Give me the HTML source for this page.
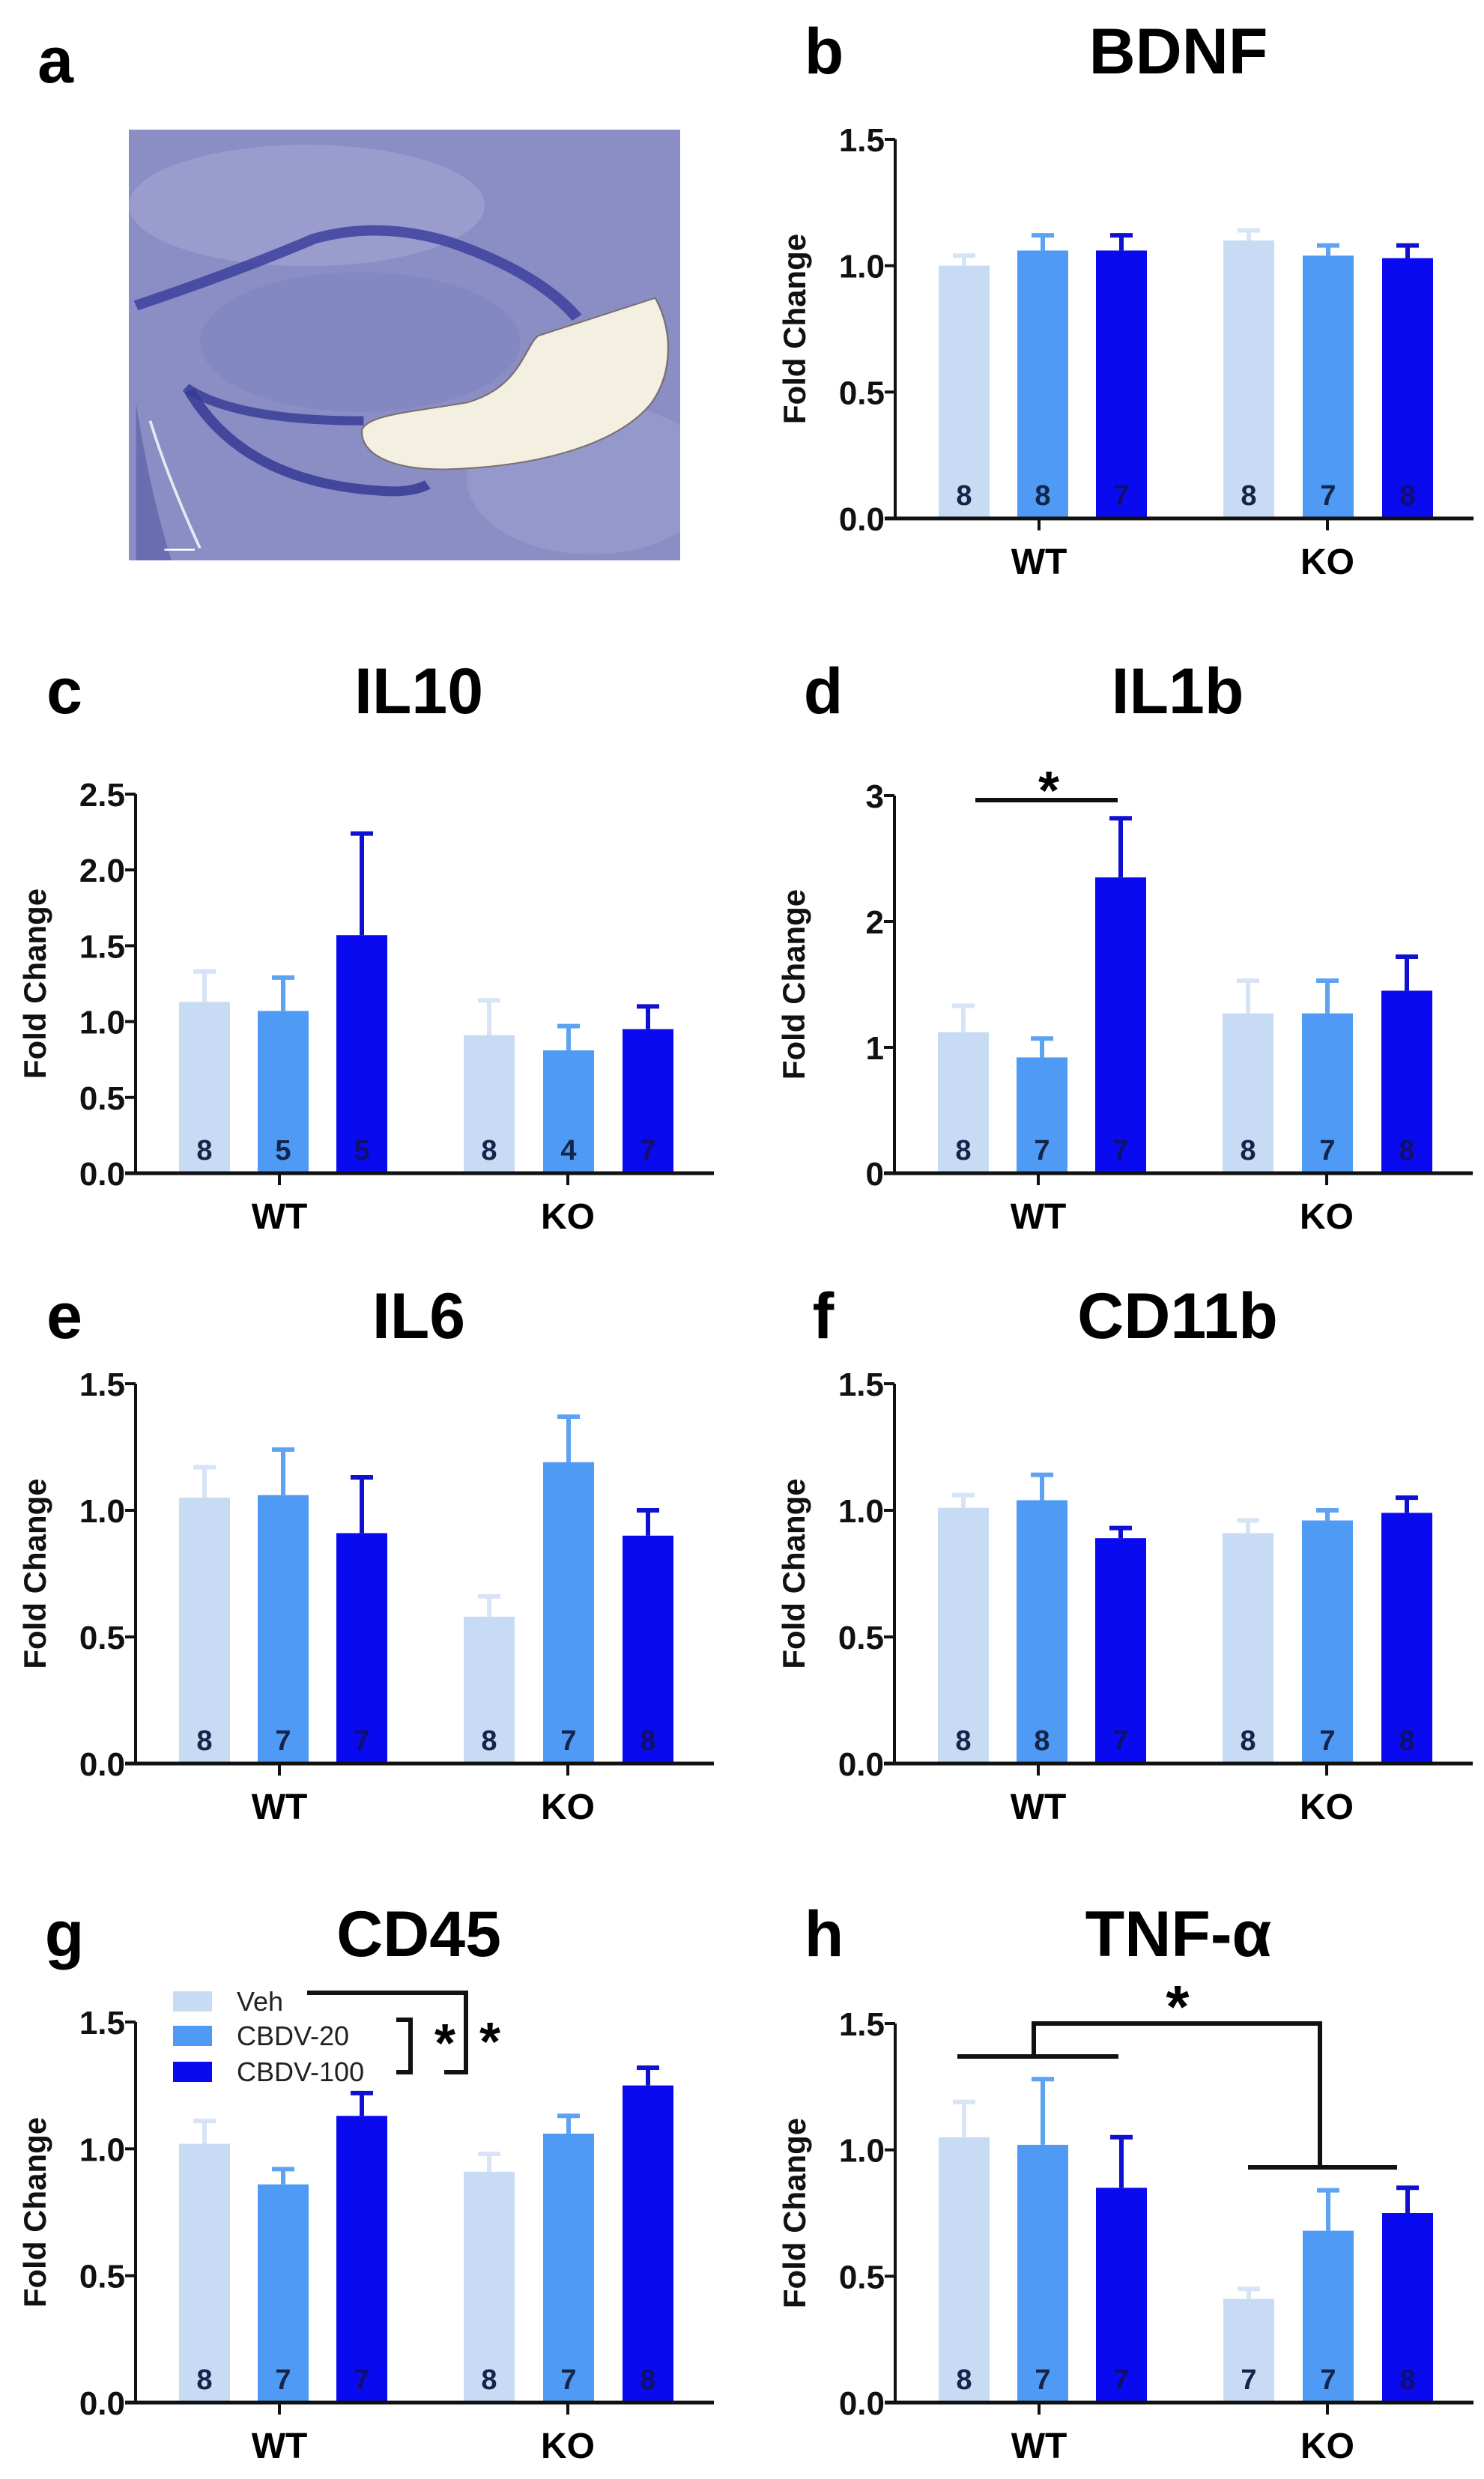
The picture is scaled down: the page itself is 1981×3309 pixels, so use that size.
<!DOCTYPE html>
<html><head><meta charset="utf-8"><style>
html,body{margin:0;padding:0;background:#fff;}
svg{display:block;font-family:"Liberation Sans",Arial,sans-serif;}
</style></head><body>
<svg id="fig" width="1981" height="3309" viewBox="0 0 1981 3309" xmlns="http://www.w3.org/2000/svg">
<g id="panel-a">
<text x="74" y="110" font-size="86" font-weight="bold" text-anchor="middle">a</text>
<svg x="172" y="173" width="736" height="575" viewBox="0 0 1550 1420" preserveAspectRatio="none">
<rect x="0" y="0" width="1550" height="1420" fill="#8a8ec5"/>
<ellipse cx="500" cy="250" rx="500" ry="200" fill="#9da0cf" opacity="0.8"/>
<ellipse cx="1300" cy="1150" rx="350" ry="250" fill="#9a9dcd" opacity="0.7"/>
<ellipse cx="650" cy="700" rx="450" ry="230" fill="#8387c2"/>
<path d="M 20,580 Q 300,470 520,360 Q 700,300 900,370 Q 1150,470 1260,620" fill="none" stroke="#3d419c" stroke-width="34" opacity="0.85"/>
<path d="M 160,850 Q 300,960 660,960" fill="none" stroke="#3a3e98" stroke-width="30" opacity="0.85"/>
<path d="M 170,860 Q 320,1160 700,1190 Q 790,1200 840,1170" fill="none" stroke="#363a95" stroke-width="32" opacity="0.85"/>
<path d="M 20,900 L 20,1420 L 120,1420 Q 60,1200 20,900 Z" fill="#6a6eb0"/>
<path d="M 60,960 Q 110,1150 200,1380" fill="none" stroke="#e8e8f0" stroke-width="8"/>
<path d="M 655,990 C 670,940 800,930 950,900 C 1100,850 1110,720 1150,680 L 1480,555 C 1530,660 1530,800 1470,900 C 1390,1020 1190,1110 890,1120 C 740,1122 650,1070 655,990 Z" fill="#f3f0e2" stroke="#7a6f70" stroke-width="5"/>
<line x1="100" y1="1385" x2="185" y2="1385" stroke="#fff" stroke-width="6"/>
</svg>
</g>
</svg>
<script>
// ---- data arrays (top level) ----
const categories = ["WT", "KO"];
const groups = ["Veh", "CBDV-20", "CBDV-100"];
const titles = ["BDNF", "IL10", "IL1b", "IL6", "CD11b", "CD45", "TNF-\u03b1"];
const letters = ["b", "c", "d", "e", "f", "g", "h"];
const yMaxes = [1.5, 2.5, 3, 1.5, 1.5, 1.5, 1.5];
const tickLabelsB = ["0.0", "0.5", "1.0", "1.5"];
const tickLabelsC = ["0.0", "0.5", "1.0", "1.5", "2.0", "2.5"];
const tickLabelsD = ["0", "1", "2", "3"];
const meansB = [1.00, 1.06, 1.06, 1.10, 1.04, 1.03];
const errB = [1.04, 1.12, 1.12, 1.14, 1.08, 1.08];
const nB = ["8", "8", "7", "8", "7", "8"];
const meansC = [1.13, 1.07, 1.57, 0.91, 0.81, 0.95];
const errC = [1.33, 1.29, 2.24, 1.14, 0.97, 1.10];
const nC = ["8", "5", "5", "8", "4", "7"];
const meansD = [1.12, 0.92, 2.35, 1.27, 1.27, 1.45];
const errD = [1.33, 1.07, 2.82, 1.53, 1.53, 1.72];
const nD = ["8", "7", "7", "8", "7", "8"];
const meansE = [1.05, 1.06, 0.91, 0.58, 1.19, 0.90];
const errE = [1.17, 1.24, 1.13, 0.66, 1.37, 1.00];
const nE = ["8", "7", "7", "8", "7", "8"];
const meansF = [1.01, 1.04, 0.89, 0.91, 0.96, 0.99];
const errF = [1.06, 1.14, 0.93, 0.96, 1.00, 1.05];
const nF = ["8", "8", "7", "8", "7", "8"];
const meansG = [1.02, 0.86, 1.13, 0.91, 1.06, 1.25];
const errG = [1.11, 0.92, 1.22, 0.98, 1.13, 1.32];
const nG = ["8", "7", "7", "8", "7", "8"];
const meansH = [1.05, 1.02, 0.85, 0.41, 0.68, 0.75];
const errH = [1.19, 1.28, 1.05, 0.45, 0.84, 0.85];
const nH = ["8", "7", "7", "7", "7", "8"];

const NS = "http://www.w3.org/2000/svg";
const svg = document.getElementById("fig");
const colors = ["#c7dcf4", "#4f9af4", "#0a0af0"];
const capColors = ["#d6e4f6", "#5ea3f2", "#1010d0"];
function mk(tag, attrs, parent) {
  const e = document.createElementNS(NS, tag);
  for (const k in attrs) e.setAttribute(k, attrs[k]);
  (parent || svg).appendChild(e);
  return e;
}

const panelDefs = [
  {ax: 1195, top: 186, zero: 692, titleY: 67, means: meansB, err: errB, n: nB, ticks: tickLabelsB},
  {ax: 181, top: 1060, zero: 1566, titleY: 921, means: meansC, err: errC, n: nC, ticks: tickLabelsC},
  {ax: 1194, top: 1062, zero: 1566, titleY: 921, means: meansD, err: errD, n: nD, ticks: tickLabelsD},
  {ax: 181, top: 1847, zero: 2354, titleY: 1755, means: meansE, err: errE, n: nE, ticks: tickLabelsB},
  {ax: 1194, top: 1847, zero: 2354, titleY: 1755, means: meansF, err: errF, n: nF, ticks: tickLabelsB},
  {ax: 181, top: 2699, zero: 3207, titleY: 2580, means: meansG, err: errG, n: nG, ticks: tickLabelsB},
  {ax: 1195, top: 2701, zero: 3207, titleY: 2580, means: meansH, err: errH, n: nH, ticks: tickLabelsB}
];
const barOffsets = [58, 163, 268, 438, 544, 650];
const barW = 68;
const catOffsets = [192, 577];

const scales = [];
panelDefs.forEach((p, pi) => {
  const g = mk("g", {});
  
  
  const yMax = yMaxes[pi];
  const y = v => p.zero - (v / yMax) * (p.zero - p.top);
  const x = i => p.ax + barOffsets[i];
  scales.push({y: y, x: x});
  // letter & title
  const lt = mk("text", {x: p.ax - 95, y: p.titleY + 31, "font-size": 86, "font-weight": "bold", "text-anchor": "middle"}, g);
  lt.textContent = letters[pi];
  
  
  const tt = mk("text", {x: p.ax + 378, y: p.titleY + 31, "font-size": 86, "font-weight": "bold", "text-anchor": "middle"}, g);
  tt.textContent = titles[pi];
  
  
  // bars
  p.means.forEach((m, i) => {
    const c = i % 3;
    const bx = x(i), cx = bx + barW / 2;
    const ytop = y(p.err[i]);
    const ln = mk("line", {x1: cx, x2: cx, y1: ytop, y2: y(m), stroke: capColors[c], "stroke-width": 6}, g);
    
    
    const cap = mk("line", {x1: cx - 15, x2: cx + 15, y1: ytop, y2: ytop, stroke: capColors[c], "stroke-width": 6}, g);
    
    
    const r = mk("rect", {x: bx, y: y(m), width: barW, height: p.zero - y(m), fill: colors[c]}, g);
    
    
    const nt = mk("text", {x: cx, y: p.zero - 18, "font-size": 38, "font-weight": "bold", "text-anchor": "middle", fill: c === 2 ? "#10106a" : "#14244a"}, g);
    nt.textContent = p.n[i];
    
    
  });
  // axes
  const ya = mk("line", {x1: p.ax, x2: p.ax, y1: p.top, y2: p.zero + 2, stroke: "#111", "stroke-width": 4}, g);
  
  
  const xa = mk("line", {x1: p.ax - 14, x2: p.ax + 772, y1: p.zero, y2: p.zero, stroke: "#111", "stroke-width": 5}, g);
  
  
  p.ticks.forEach((t, ti) => {
    const v = yMax * ti / (p.ticks.length - 1);
    const tk = mk("line", {x1: p.ax - 14, x2: p.ax, y1: y(v), y2: y(v), stroke: "#111", "stroke-width": 4}, g);
    
    
    const tl = mk("text", {x: p.ax - 14, y: y(v) + 16, "font-size": 44, "font-weight": "bold", "text-anchor": "end", fill: "#111"}, g);
    tl.textContent = t;
    
    
  });
  categories.forEach((cat, ci) => {
    const cx = p.ax + catOffsets[ci];
    const tk = mk("line", {x1: cx, x2: cx, y1: p.zero, y2: p.zero + 16, stroke: "#111", "stroke-width": 4}, g);
    
    
    const cl = mk("text", {x: cx, y: p.zero + 74, "font-size": 48, "font-weight": "bold", "text-anchor": "middle"}, g);
    cl.textContent = cat;
    
    
  });
  const ymid = (p.top + p.zero) / 2;
  const yl = mk("text", {x: p.ax - 120, y: ymid, "font-size": 42, "font-weight": "bold", "text-anchor": "middle", transform: "rotate(-90 " + (p.ax - 120) + " " + ymid + ")", fill: "#111"}, g);
  yl.textContent = "Fold Change";
  
  
});

// significance annotations
function line(x1, y1, x2, y2, name) {
  const l = mk("line", {x1: x1, y1: y1, x2: x2, y2: y2, stroke: "#111", "stroke-width": 6});
  
  
}
function star(x, y, size, name) {
  const t = mk("text", {x: x, y: y, "font-size": size, "font-weight": "bold", "text-anchor": "middle"});
  t.textContent = "*";
  
  
}
// d
line(1302, 1068, 1492, 1068, 'sig-bar-il1b');
star(1400, 1080, 72, 'sig-star-il1b');
// h
line(1278, 2745, 1493, 2745, 'sig-bar-tnf-wt');
line(1666, 2893, 1865, 2893, 'sig-bar-tnf-ko');
line(1380, 2745, 1380, 2701, 'sig-bracket');
line(1377, 2701, 1765, 2701, 'sig-bracket');
line(1762, 2698, 1762, 2893, 'sig-bracket');
star(1572, 2706, 80, 'sig-star-tnf');
// g legend
const legY = [2658, 2704, 2752];
groups.forEach((gname, i) => {
  const r = mk("rect", {x: 231, y: legY[i], width: 52, height: 27, fill: colors[i]});
  
  
  const t = mk("text", {x: 316, y: legY[i] + 26, "font-size": 36, fill: "#222"});
  t.textContent = gname;
  
  
});
line(410, 2660, 625, 2660, 'legend-bracket');
line(622, 2657, 622, 2769, 'legend-bracket');
line(593, 2766, 625, 2766, 'legend-bracket');
line(529, 2696, 551, 2696, 'legend-bracket');
line(548, 2693, 548, 2769, 'legend-bracket');
line(529, 2766, 551, 2766, 'legend-bracket');
star(594, 2752, 72, 'sig-star-cd45');
star(654, 2750, 72, 'sig-star-cd45');
</script>
</body></html>
